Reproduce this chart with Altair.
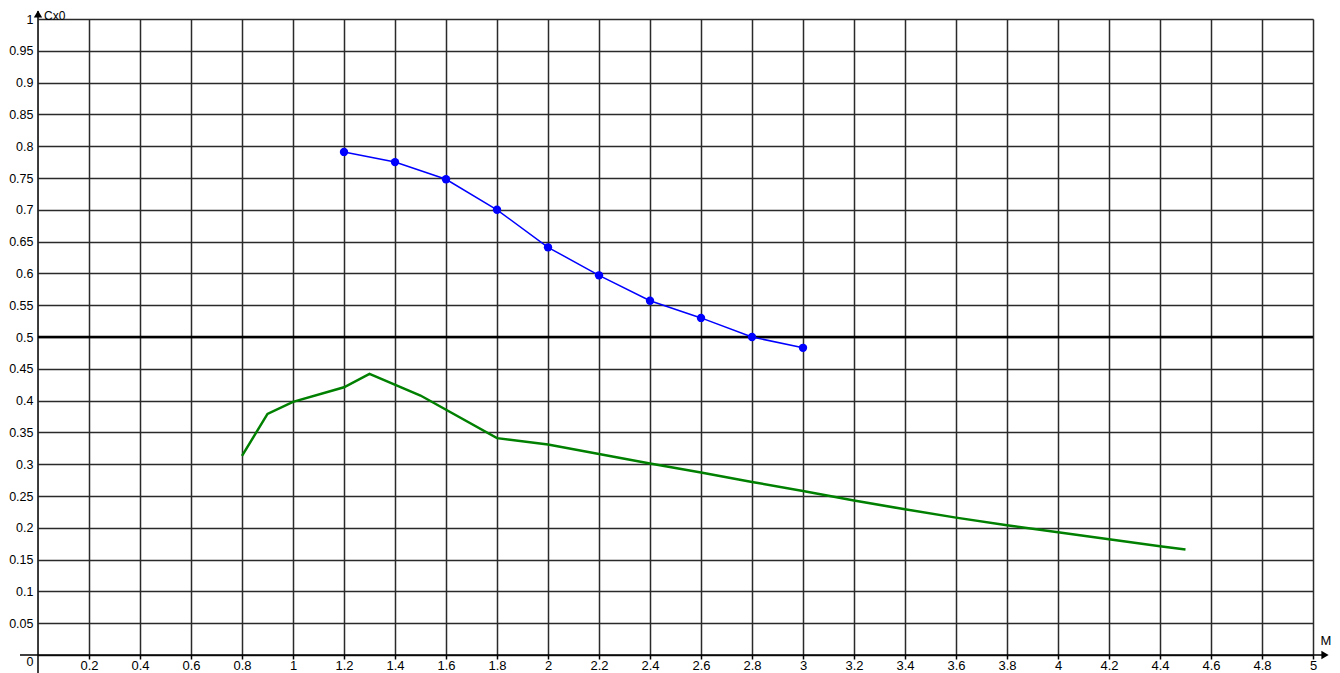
import altair as alt
import pandas as pd

# Blue series (with markers)
blue_m = [1.2, 1.4, 1.6, 1.8, 2.0, 2.2, 2.4, 2.6, 2.8, 3.0]
blue_cx = [0.791, 0.775, 0.748, 0.700, 0.641, 0.597, 0.557, 0.530, 0.500, 0.483]

# Green series (line only)
green_m = [0.8, 0.9, 1.0, 1.2, 1.3, 1.5, 1.8, 2.0, 2.2, 2.4, 2.6, 2.8, 3.0, 3.2,
           3.4, 3.6, 3.8, 4.0, 4.2, 4.4, 4.5]
green_cx = [0.313, 0.379, 0.398, 0.421, 0.442, 0.408, 0.341, 0.331, 0.316, 0.301,
            0.287, 0.272, 0.258, 0.243, 0.229, 0.216, 0.204, 0.193, 0.182, 0.171, 0.166]

x_ticks = [round(0.2 * i, 1) for i in range(1, 26)]
y_ticks = [round(0.05 * i, 2) for i in range(0, 21)]

W, H = 1275, 636
FONT = "Liberation Sans"

blue = pd.DataFrame({"M": blue_m, "Cx0": blue_cx})
green = pd.DataFrame({"M": green_m, "Cx0": green_cx})
one = pd.DataFrame({"a": [0]})

xs = alt.Scale(domain=[0, 5], nice=False, zero=False)
ys = alt.Scale(domain=[0, 1], nice=False, zero=False)

x_axis = alt.Axis(values=x_ticks, format="~g", grid=True, gridColor="#2a2a2a",
                  gridWidth=1.5, gridOpacity=1, domain=False, tickColor="#000",
                  tickSize=4, tickWidth=1.5, labelFont=FONT, labelFontSize=13,
                  labelColor="#000", labelPadding=0, labelOverlap=False,
                  labelFlush=False, title=None)
y_axis = alt.Axis(values=y_ticks, format="~g", grid=True, gridColor="#2a2a2a",
                  gridWidth=1.5, gridOpacity=1, domain=False, ticks=False,
                  labelFont=FONT, labelFontSize=12.5, labelColor="#000",
                  labelPadding=5, labelOverlap=False, labelFlush=False, title=None,
                  labelOffset=alt.ExprRef("datum.value == 0 ? 6 : 0"))

green_line = alt.Chart(green).mark_line(color="#008000", strokeWidth=2.5).encode(
    x=alt.X("M:Q", scale=xs, axis=x_axis),
    y=alt.Y("Cx0:Q", scale=ys, axis=y_axis),
)

blue_line = alt.Chart(blue).mark_line(color="#0000ff", strokeWidth=1.5).encode(
    x=alt.X("M:Q", scale=xs, axis=x_axis), y=alt.Y("Cx0:Q", scale=ys, axis=y_axis))
blue_pts = alt.Chart(blue).mark_circle(color="#0000ff", size=70, opacity=1).encode(
    x=alt.X("M:Q", scale=xs, axis=x_axis), y=alt.Y("Cx0:Q", scale=ys, axis=y_axis))

half_rule = alt.Chart(one).mark_rule(color="#000", strokeWidth=2.5).encode(
    y=alt.YDatum(0.5, scale=ys, axis=y_axis))

x_axis_line = alt.Chart(one).mark_rule(color="#000", strokeWidth=1.5).encode(
    x=alt.value(-18), x2=alt.value(W + 12), y=alt.value(H))
y_axis_line = alt.Chart(one).mark_rule(color="#000", strokeWidth=1.5).encode(
    x=alt.value(0), y=alt.value(-8), y2=alt.value(H + 20))

up_arrow = alt.Chart(one).mark_point(shape="triangle-up", filled=True, color="#000",
                                     size=70, opacity=1).encode(
    x=alt.value(0), y=alt.value(-5))
right_arrow = alt.Chart(one).mark_point(shape="triangle-right", filled=True, color="#000",
                                        size=70, opacity=1).encode(
    x=alt.value(W + 12), y=alt.value(H))

cx_label = alt.Chart(one).mark_text(align="left", baseline="middle", font=FONT,
                                    fontSize=12, color="#000").encode(
    x=alt.value(6), y=alt.value(-3), text=alt.value("Cx0"))
m_label = alt.Chart(one).mark_text(align="center", baseline="middle", font=FONT,
                                   fontSize=13, color="#000").encode(
    x=alt.value(W + 13), y=alt.value(H - 14), text=alt.value("M"))

chart = alt.layer(
    green_line, half_rule, x_axis_line, y_axis_line, blue_line, blue_pts,
    up_arrow, right_arrow, cx_label, m_label
).properties(
    width=W, height=H,
    autosize=alt.AutoSizeParams(type="none"),
    padding={"left": 30, "top": 11, "right": 18, "bottom": 22},
).configure_view(stroke=None).configure(background="#ffffff")

chart.save("out.html", embed_options={"renderer": "svg", "actions": False})
